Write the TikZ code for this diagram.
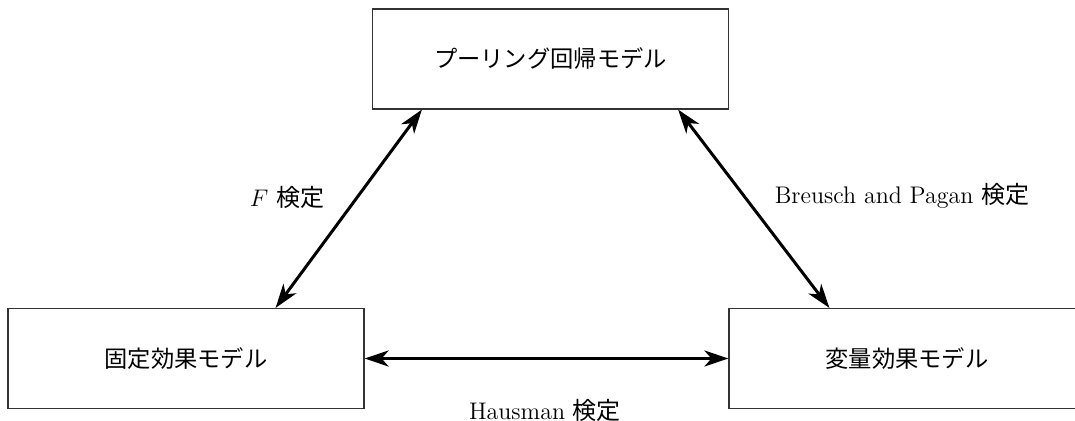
\documentclass[tikz,border=0pt]{standalone}
\usepackage{fontspec}
\newfontfamily\jp{Noto Sans CJK JP}
\newfontfamily\jpbox[Scale=0.97]{Noto Sans CJK JP}
\usetikzlibrary{arrows.meta,calc}
\begin{document}
\begin{tikzpicture}[x=0.5pt,y=-0.5pt,
  box/.style={draw=black!80, line width=0.6pt, minimum width=178pt, minimum height=50pt, inner sep=0pt, font=\fontsize{12}{14}\selectfont\jpbox},
  conn/.style={line width=1.5pt, {Stealth[length=12pt,width=8pt,inset=3.5pt]}-{Stealth[length=12pt,width=8pt,inset=3.5pt]}},
  lab/.style={font=\fontsize{12}{14}\selectfont, inner sep=0pt}]
\useasboundingbox (0,0) rectangle (1075,421);
\clip (0,0) rectangle (1075,421);
\node[box] (pool) at (550.5,59) {プーリング回帰モデル};
\node[box] (fixed) at (186,358.5) {固定効果モデル};
\node[box] (random) at (907,358.5) {変量効果モデル};
\draw[conn] ($(pool.south west)+(50,0)$) -- ($(fixed.north east)+(-89,0)$);
\draw[conn] ($(pool.south east)+(-51,0)$) -- ($(random.north west)+(101,0)$);
\draw[conn] (fixed.east) -- (random.west);
\node[lab] (flab) at (287,197) {$F$ {\jp 検定}};
\node[lab] (bplab) at (902,196) {Breusch and Pagan {\jp 検定}};
\node[lab] (hlab) at (545,410) {Hausman {\jp 検定}};
\end{tikzpicture}
\end{document}
